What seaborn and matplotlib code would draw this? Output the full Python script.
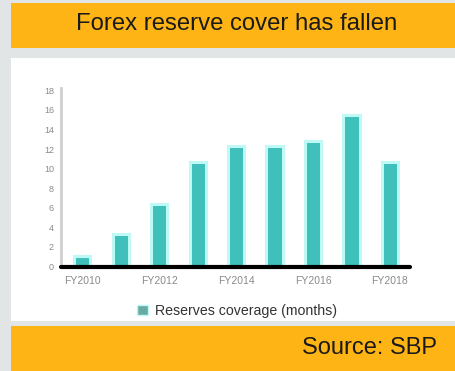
import matplotlib
matplotlib.use("Agg")
import matplotlib.pyplot as plt
import seaborn as sns
import pandas as pd
from matplotlib.patches import Rectangle, Patch

# Reserve cover by fiscal year
years = ["FY2010", "FY2011", "FY2012", "FY2013", "FY2014",
         "FY2015", "FY2016", "FY2017", "FY2018"]
cover = [1.1, 3.3, 6.4, 10.7, 12.3, 12.3, 12.8, 15.5, 10.7]
shown_years = ["FY2010", "FY2012", "FY2014", "FY2016", "FY2018"]
y_ticks = [0, 2, 4, 6, 8, 10, 12, 14, 16, 18]

title = "Forex reserve cover has fallen"
source = "Source: SBP"
legend_label = "Reserves coverage (months)"

ORANGE = "#fdb414"
TEAL = "#3fc0bb"
GLOW = "#bff9f5"
BG = "#e2e5e5"

sns.set_theme(style="white")
plt.rcParams["font.family"] = ["Liberation Sans", "DejaVu Sans"]

W, H = 455, 371
fig = plt.figure(figsize=(W / 100, H / 100), dpi=100)
fig.patch.set_facecolor(BG)

def px_rect(x0, y0, x1, y1, color):
    fig.patches.append(Rectangle((x0 / W, 1 - y1 / H), (x1 - x0) / W, (y1 - y0) / H,
                                 transform=fig.transFigure, facecolor=color,
                                 edgecolor="none", zorder=-5))

# header, chart panel and footer
px_rect(11, 3, W, 48, ORANGE)
px_rect(11, 58, W, 321, "white")
px_rect(11, 326, W, H, ORANGE)

fig.text(237 / W, 1 - 24.5 / H, title, ha="center", va="center",
         fontsize=17.2, color="#1a1a1a")
fig.text(437 / W, 1 - 347.5 / H, source, ha="right", va="center",
         fontsize=17, color="#1a1a1a")

ax_left, ax_right = 61, 410
ax_bottom, ax_top = 266.5, 87.5
ax = fig.add_axes([ax_left / W, 1 - ax_bottom / H,
                   (ax_right - ax_left) / W, (ax_bottom - ax_top) / H])
ax.set_zorder(2)
ax.set_facecolor("none")

df = pd.DataFrame({"year": years, "cover": cover})
sns.barplot(data=df, x="year", y="cover", ax=ax, color=TEAL, width=0.42,
            saturation=1, edgecolor=GLOW, linewidth=2.2, zorder=2)

ax.set_xlim(-0.55, len(years) - 0.48)
ax.set_ylim(0, 18.3)
ax.set_yticks(y_ticks)
ax.set_yticklabels([str(t) for t in y_ticks], fontsize=6.5, color="#8a8a8a")
ax.set_xticks([years.index(y) for y in shown_years])
ax.set_xticklabels(shown_years, fontsize=7.5, color="#8a8a8a")
ax.tick_params(axis="both", length=0, pad=5)
ax.tick_params(axis="x", pad=7)
ax.set_xlabel("")
ax.set_ylabel("")

for side in ("top", "right", "bottom"):
    ax.spines[side].set_visible(False)
ax.spines["left"].set_color("#cfcfcf")
ax.spines["left"].set_linewidth(2)
ax.axhline(0, color="black", linewidth=3, zorder=3, clip_on=False)

leg = fig.legend(handles=[Patch(facecolor="#6aaaa5", edgecolor=GLOW)],
                 labels=[legend_label], loc="center",
                 bbox_to_anchor=(237 / W, 1 - 311 / H), frameon=False,
                 fontsize=10.2, handlelength=0.75, handleheight=0.75,
                 handletextpad=0.5, labelcolor="#333333")

fig.savefig("out.png", dpi=100, facecolor=fig.get_facecolor())
